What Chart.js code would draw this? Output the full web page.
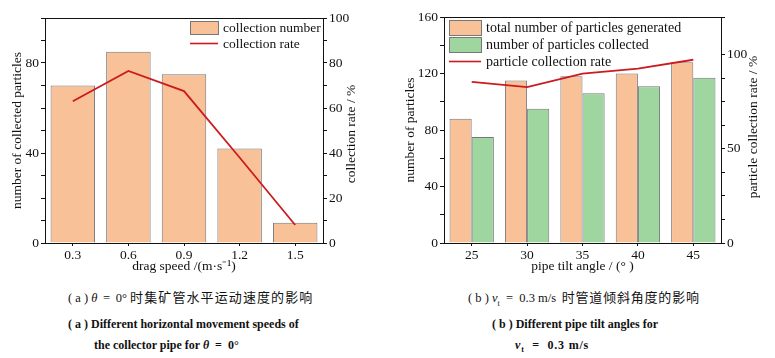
<!DOCTYPE html>
<html>
<head>
<meta charset="utf-8">
<script src="https://cdn.jsdelivr.net/npm/chart.js@4.4.1/dist/chart.umd.min.js"></script>
<style>
  html, body { margin: 0; padding: 0; background: #fff; }
  body { width: 775px; height: 358px; position: relative; overflow: hidden; }
  canvas { position: absolute; top: 0; }
  #speedChart { left: 0; }
  #tiltChart { left: 390px; }
  .cap { position: absolute; white-space: nowrap; color: #111; font-family: 'Liberation Serif', serif; font-size: 12.5px; line-height: 14px; }
  .cap .cjk { font-family: 'Noto Sans CJK SC', sans-serif; font-size: 13px; }
  .cap.en { font-weight: bold; font-size: 12px; }
  .cap sub { font-size: 8px; }
</style>
</head>
<body>
<canvas id="speedChart" width="390" height="280"></canvas>
<canvas id="tiltChart" width="385" height="280"></canvas>

<div class="cap" style="left:68px; top:290px;">( a ) <i>θ</i> &thinsp;= &thinsp;0° <span class="cjk" style="letter-spacing:1.1px">时集矿管水平运动速度的影响</span></div>
<div class="cap en" style="left:68px; top:317px;">( a ) Different horizontal movement speeds of</div>
<div class="cap en" style="left:94px; top:338px;">the collector pipe for <i>θ</i> &nbsp;= &nbsp;0°</div>

<div class="cap" style="left:468px; top:290px;">( b ) <i>v</i><sub>t</sub> &nbsp;= &nbsp;0.3 m/s&thinsp; <span class="cjk" style="letter-spacing:0.8px">时管道倾斜角度的影响</span></div>
<div class="cap en" style="left:492px; top:317px;">( b ) Different pipe tilt angles for</div>
<div class="cap en" style="left:515px; top:338px; letter-spacing:0.8px;"><i>v</i><sub>t</sub> &nbsp;= &nbsp;0.3 m/s</div>

<script>
// chart (a): drag speed
const speedLabels = ['0.3', '0.6', '0.9', '1.2', '1.5'];
const collectionNumber = [70, 85, 75, 42, 9];
const collectionRate = [63, 76.5, 67.5, 38, 8];

// chart (b): pipe tilt angle
const tiltLabels = ['25', '30', '35', '40', '45'];
const generatedCount = [88, 115, 118, 120, 128];
const collectedCount = [75, 95, 106, 111, 117];
const particleRate = [85.5, 82.8, 89.9, 92.6, 97.3];

const serif = '"Liberation Serif", serif';
const orange = '#f8c197';
const green = '#9fd6a0';
const barEdge = '#777777';
const red = '#cc1a1e';

Chart.defaults.font.family = serif;
Chart.defaults.color = '#111';

// black frame round the plot area
const framePlugin = {
  id: 'frame',
  afterDraw(chart) {
    const { ctx, chartArea: a } = chart;
    ctx.save();
    ctx.strokeStyle = '#111';
    ctx.lineWidth = 1;
    ctx.strokeRect(Math.round(a.left) + 0.5, Math.round(a.top) + 0.5, Math.round(a.right - a.left), Math.round(a.bottom - a.top));
    ctx.restore();
  }
};

// legend drawn inside the plot, Origin style
const insideLegend = {
  id: 'insideLegend',
  afterDraw(chart, args, opts) {
    const { ctx } = chart;
    ctx.save();
    ctx.font = `${opts.fontSize}px ${serif}`;
    ctx.textBaseline = 'middle';
    chart.data.datasets.forEach((ds, i) => {
      const y = opts.y + i * opts.rowH;
      if (ds.type === 'line') {
        ctx.strokeStyle = ds.borderColor;
        ctx.lineWidth = 1.6;
        ctx.beginPath();
        ctx.moveTo(opts.x, y + opts.boxH / 2);
        ctx.lineTo(opts.x + opts.boxW, y + opts.boxH / 2);
        ctx.stroke();
      } else {
        ctx.fillStyle = ds.backgroundColor;
        ctx.fillRect(opts.x, y, opts.boxW, opts.boxH);
        ctx.strokeStyle = barEdge;
        ctx.lineWidth = 1;
        ctx.strokeRect(opts.x + 0.5, y + 0.5, opts.boxW, opts.boxH);
      }
      ctx.fillStyle = '#111';
      ctx.fillText(ds.label, opts.x + opts.boxW + 5, y + opts.boxH / 2 + 1);
    });
    ctx.restore();
  }
};

// right axis title, read bottom to top like the left one
const rightTitle = {
  id: 'rightTitle',
  afterDraw(chart, args, opts) {
    const { ctx } = chart;
    ctx.save();
    ctx.translate(opts.x, opts.y);
    ctx.rotate(-Math.PI / 2);
    ctx.font = `${opts.fontSize}px ${serif}`;
    ctx.fillStyle = '#111';
    ctx.textAlign = 'center';
    ctx.textBaseline = 'middle';
    ctx.fillText(opts.text, 0, 0);
    ctx.restore();
  }
};

function fixed(size, dim) {
  return (scale) => { scale[dim] = size; };
}

function axis(opts) {
  return {
    position: opts.position,
    min: opts.min,
    max: opts.max,
    afterFit: fixed(opts.width, 'width'),
    grid: { drawOnChartArea: false, tickLength: 4, color: '#111', offset: false },
    border: { display: true, color: '#111' },
    ticks: {
      stepSize: opts.step,
      padding: 2,
      font: { size: 13.5 },
      color: '#111',
      callback: (v) => (Math.abs(v % opts.every) < 1e-6 ? v : '')
    },
    title: {
      display: !!opts.title,
      text: opts.title,
      font: { size: 13.5 },
      color: '#111',
      padding: { top: opts.titlePad || 0, bottom: 0 }
    }
  };
}

function xAxis(labelText) {
  return {
    afterFit: fixed(37, 'height'),
    grid: { drawOnChartArea: false, tickLength: 3, color: '#111', offset: false },
    border: { display: true, color: '#111' },
    ticks: { padding: 1, font: { size: 13.5 }, color: '#111' },
    title: { display: true, text: labelText, font: { size: 13.5 }, color: '#111', padding: { top: 0, bottom: 5 } }
  };
}

new Chart(document.getElementById('speedChart'), {
  type: 'bar',
  data: {
    labels: speedLabels,
    datasets: [
      {
        label: 'collection number',
        data: collectionNumber,
        backgroundColor: orange,
        borderColor: barEdge,
        borderWidth: 1,
        categoryPercentage: 0.8,
        barPercentage: 1,
        yAxisID: 'y',
        order: 2
      },
      {
        type: 'line',
        label: 'collection rate',
        data: collectionRate,
        borderColor: red,
        borderWidth: 1.8,
        pointRadius: 0,
        tension: 0,
        yAxisID: 'y1',
        order: 1
      }
    ]
  },
  options: {
    responsive: false,
    animation: false,
    devicePixelRatio: 1,
    layout: { padding: { top: 18, left: 0, right: 0, bottom: 0 } },
    plugins: {
      legend: { display: false },
      tooltip: { enabled: false },
      insideLegend: { x: 190, y: 21, boxW: 28, boxH: 13, rowH: 16, fontSize: 13.5 },
      rightTitle: { text: 'collection rate / %', x: 351, y: 134, fontSize: 13.5 }
    },
    scales: {
      x: xAxis('drag speed /(m·s⁻¹)'),
      y: axis({ position: 'left', min: 0, max: 100, step: 10, every: 40, width: 45, title: 'number of collected particles', titlePad: 9 }),
      y1: axis({ position: 'right', min: 0, max: 100, step: 10, every: 20, width: 67 })
    }
  },
  plugins: [framePlugin, insideLegend, rightTitle]
});

new Chart(document.getElementById('tiltChart'), {
  type: 'bar',
  data: {
    labels: tiltLabels,
    datasets: [
      {
        label: 'total number of particles generated',
        data: generatedCount,
        backgroundColor: orange,
        borderColor: barEdge,
        borderWidth: 1,
        categoryPercentage: 0.8,
        barPercentage: 1,
        yAxisID: 'y',
        order: 2
      },
      {
        label: 'number of particles collected',
        data: collectedCount,
        backgroundColor: green,
        borderColor: barEdge,
        borderWidth: 1,
        categoryPercentage: 0.8,
        barPercentage: 1,
        yAxisID: 'y',
        order: 2
      },
      {
        type: 'line',
        label: 'particle collection rate',
        data: particleRate,
        borderColor: red,
        borderWidth: 1.8,
        pointRadius: 0,
        tension: 0,
        yAxisID: 'y1',
        order: 1
      }
    ]
  },
  options: {
    responsive: false,
    animation: false,
    devicePixelRatio: 1,
    layout: { padding: { top: 17, left: 0, right: 0, bottom: 0 } },
    plugins: {
      legend: { display: false },
      tooltip: { enabled: false },
      insideLegend: { x: 59, y: 20, boxW: 32, boxH: 15, rowH: 17, fontSize: 14 },
      rightTitle: { text: 'particle collection rate / %', x: 363, y: 127, fontSize: 13.5 }
    },
    scales: {
      x: xAxis('pipe tilt angle / (° )'),
      y: axis({ position: 'left', min: 0, max: 160, step: 10, every: 40, width: 54, title: 'number of particles', titlePad: 12 }),
      y1: axis({ position: 'right', min: 0, max: 120, step: 12.5, every: 50, width: 54 })
    }
  },
  plugins: [framePlugin, insideLegend, rightTitle]
});
</script>
</body>
</html>
